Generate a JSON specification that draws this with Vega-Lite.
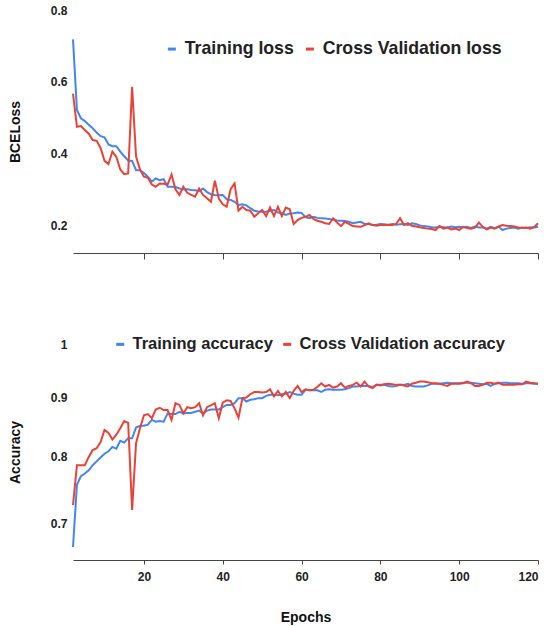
{
  "$schema": "https://vega.github.io/schema/vega-lite/v6.json",
  "padding": {"left": 8, "top": 4, "right": 5, "bottom": 2},
  "config": {
    "font": "Liberation Sans",
    "view": {"stroke": null},
    "axis": {"grid": false, "labelFont": "Liberation Sans", "labelFontWeight": "bold", "labelFontSize": 12, "labelColor": "#222", "titleFont": "Liberation Sans", "titleFontWeight": "bold", "titleFontSize": 14, "titleColor": "#111", "domainColor": "#444", "tickColor": "#444"},
    "legend": {"labelFont": "Liberation Sans", "labelFontSize": 16.5, "labelFontWeight": "bold", "labelColor": "#222", "labelLimit": 0, "symbolType": "stroke", "symbolSize": 64, "symbolStrokeWidth": 3, "columnPadding": 4, "labelOffset": 4, "padding": 0}
  },
  "datasets": {
    "loss": [
      {"epoch":2,"train":0.718,"cv":0.567},{"epoch":3,"train":0.521,"cv":0.474},{"epoch":4,"train":0.498,"cv":0.476},{"epoch":5,"train":0.490,"cv":0.465},{"epoch":6,"train":0.480,"cv":0.455},{"epoch":7,"train":0.470,"cv":0.437},{"epoch":8,"train":0.458,"cv":0.435},{"epoch":9,"train":0.448,"cv":0.415},{"epoch":10,"train":0.445,"cv":0.379},{"epoch":11,"train":0.425,"cv":0.370},
      {"epoch":12,"train":0.420,"cv":0.405},{"epoch":13,"train":0.420,"cv":0.390},{"epoch":14,"train":0.405,"cv":0.355},{"epoch":15,"train":0.392,"cv":0.342},{"epoch":16,"train":0.380,"cv":0.344},{"epoch":17,"train":0.379,"cv":0.586},{"epoch":18,"train":0.353,"cv":0.391},{"epoch":19,"train":0.353,"cv":0.355},{"epoch":20,"train":0.345,"cv":0.335},{"epoch":21,"train":0.335,"cv":0.332},
      {"epoch":22,"train":0.321,"cv":0.313},{"epoch":23,"train":0.330,"cv":0.307},{"epoch":24,"train":0.325,"cv":0.316},{"epoch":25,"train":0.328,"cv":0.315},{"epoch":26,"train":0.307,"cv":0.313},{"epoch":27,"train":0.307,"cv":0.341},{"epoch":28,"train":0.306,"cv":0.300},{"epoch":29,"train":0.302,"cv":0.284},{"epoch":30,"train":0.300,"cv":0.307},{"epoch":31,"train":0.300,"cv":0.290},
      {"epoch":32,"train":0.298,"cv":0.284},{"epoch":33,"train":0.297,"cv":0.279},{"epoch":34,"train":0.295,"cv":0.302},{"epoch":35,"train":0.302,"cv":0.284},{"epoch":36,"train":0.292,"cv":0.275},{"epoch":37,"train":0.286,"cv":0.265},{"epoch":38,"train":0.284,"cv":0.324},{"epoch":39,"train":0.283,"cv":0.274},{"epoch":40,"train":0.284,"cv":0.258},{"epoch":41,"train":0.272,"cv":0.251},
      {"epoch":42,"train":0.270,"cv":0.300},{"epoch":43,"train":0.265,"cv":0.316},{"epoch":44,"train":0.256,"cv":0.240},{"epoch":45,"train":0.258,"cv":0.251},{"epoch":46,"train":0.255,"cv":0.242},{"epoch":47,"train":0.247,"cv":0.240},{"epoch":48,"train":0.240,"cv":0.223},{"epoch":49,"train":0.238,"cv":0.233},{"epoch":50,"train":0.237,"cv":0.242},{"epoch":51,"train":0.237,"cv":0.225},
      {"epoch":52,"train":0.240,"cv":0.249},{"epoch":53,"train":0.242,"cv":0.225},{"epoch":54,"train":0.235,"cv":0.251},{"epoch":55,"train":0.233,"cv":0.225},{"epoch":56,"train":0.228,"cv":0.249},{"epoch":57,"train":0.232,"cv":0.244},{"epoch":58,"train":0.233,"cv":0.203},{"epoch":59,"train":0.235,"cv":0.214},{"epoch":60,"train":0.234,"cv":0.220},{"epoch":61,"train":0.222,"cv":0.223},
      {"epoch":62,"train":0.219,"cv":0.228},{"epoch":63,"train":0.223,"cv":0.217},{"epoch":64,"train":0.220,"cv":0.212},{"epoch":65,"train":0.219,"cv":0.209},{"epoch":66,"train":0.218,"cv":0.205},{"epoch":67,"train":0.217,"cv":0.203},{"epoch":68,"train":0.215,"cv":0.219},{"epoch":69,"train":0.213,"cv":0.207},{"epoch":70,"train":0.212,"cv":0.197},{"epoch":71,"train":0.211,"cv":0.209},
      {"epoch":72,"train":0.209,"cv":0.203},{"epoch":73,"train":0.205,"cv":0.197},{"epoch":74,"train":0.207,"cv":0.196},{"epoch":75,"train":0.209,"cv":0.195},{"epoch":76,"train":0.203,"cv":0.200},{"epoch":77,"train":0.203,"cv":0.205},{"epoch":78,"train":0.200,"cv":0.200},{"epoch":79,"train":0.201,"cv":0.198},{"epoch":80,"train":0.203,"cv":0.200},{"epoch":81,"train":0.202,"cv":0.200},
      {"epoch":82,"train":0.200,"cv":0.201},{"epoch":83,"train":0.203,"cv":0.200},{"epoch":84,"train":0.201,"cv":0.203},{"epoch":85,"train":0.202,"cv":0.219},{"epoch":86,"train":0.203,"cv":0.200},{"epoch":87,"train":0.200,"cv":0.205},{"epoch":88,"train":0.205,"cv":0.198},{"epoch":89,"train":0.203,"cv":0.196},{"epoch":90,"train":0.199,"cv":0.194},{"epoch":91,"train":0.197,"cv":0.192},
      {"epoch":92,"train":0.196,"cv":0.190},{"epoch":93,"train":0.194,"cv":0.189},{"epoch":94,"train":0.193,"cv":0.186},{"epoch":95,"train":0.195,"cv":0.197},{"epoch":96,"train":0.194,"cv":0.190},{"epoch":97,"train":0.193,"cv":0.193},{"epoch":98,"train":0.196,"cv":0.188},{"epoch":99,"train":0.194,"cv":0.190},{"epoch":100,"train":0.195,"cv":0.186},{"epoch":101,"train":0.193,"cv":0.195},
      {"epoch":102,"train":0.195,"cv":0.192},{"epoch":103,"train":0.192,"cv":0.190},{"epoch":104,"train":0.196,"cv":0.193},{"epoch":105,"train":0.193,"cv":0.207},{"epoch":106,"train":0.193,"cv":0.195},{"epoch":107,"train":0.190,"cv":0.188},{"epoch":108,"train":0.195,"cv":0.193},{"epoch":109,"train":0.191,"cv":0.190},{"epoch":110,"train":0.195,"cv":0.196},{"epoch":111,"train":0.186,"cv":0.200},
      {"epoch":112,"train":0.190,"cv":0.198},{"epoch":113,"train":0.192,"cv":0.197},{"epoch":114,"train":0.193,"cv":0.196},{"epoch":115,"train":0.190,"cv":0.193},{"epoch":116,"train":0.193,"cv":0.192},{"epoch":117,"train":0.192,"cv":0.193},{"epoch":118,"train":0.194,"cv":0.190},{"epoch":119,"train":0.193,"cv":0.194},{"epoch":120,"train":0.195,"cv":0.205}
    ],
    "acc": [
      {"epoch":2,"train":0.668,"cv":0.726},{"epoch":3,"train":0.756,"cv":0.786},{"epoch":4,"train":0.769,"cv":0.786},{"epoch":5,"train":0.773,"cv":0.786},{"epoch":6,"train":0.778,"cv":0.799},{"epoch":7,"train":0.786,"cv":0.810},{"epoch":8,"train":0.792,"cv":0.813},{"epoch":9,"train":0.798,"cv":0.823},{"epoch":10,"train":0.804,"cv":0.843},{"epoch":11,"train":0.808,"cv":0.838},
      {"epoch":12,"train":0.815,"cv":0.827},{"epoch":13,"train":0.812,"cv":0.835},{"epoch":14,"train":0.825,"cv":0.846},{"epoch":15,"train":0.822,"cv":0.858},{"epoch":16,"train":0.829,"cv":0.855},{"epoch":17,"train":0.829,"cv":0.719},{"epoch":18,"train":0.847,"cv":0.821},{"epoch":19,"train":0.850,"cv":0.846},{"epoch":20,"train":0.850,"cv":0.868},{"epoch":21,"train":0.852,"cv":0.870},
      {"epoch":22,"train":0.860,"cv":0.863},{"epoch":23,"train":0.857,"cv":0.878},{"epoch":24,"train":0.858,"cv":0.881},{"epoch":25,"train":0.857,"cv":0.877},{"epoch":26,"train":0.871,"cv":0.877},{"epoch":27,"train":0.870,"cv":0.860},{"epoch":28,"train":0.870,"cv":0.889},{"epoch":29,"train":0.874,"cv":0.886},{"epoch":30,"train":0.871,"cv":0.871},{"epoch":31,"train":0.872,"cv":0.882},
      {"epoch":32,"train":0.872,"cv":0.880},{"epoch":33,"train":0.874,"cv":0.882},{"epoch":34,"train":0.876,"cv":0.889},{"epoch":35,"train":0.871,"cv":0.868},{"epoch":36,"train":0.876,"cv":0.882},{"epoch":37,"train":0.878,"cv":0.885},{"epoch":38,"train":0.878,"cv":0.889},{"epoch":39,"train":0.878,"cv":0.863},{"epoch":40,"train":0.882,"cv":0.890},{"epoch":41,"train":0.886,"cv":0.894},
      {"epoch":42,"train":0.886,"cv":0.893},{"epoch":43,"train":0.889,"cv":0.880},{"epoch":44,"train":0.898,"cv":0.864},{"epoch":45,"train":0.898,"cv":0.898},{"epoch":46,"train":0.892,"cv":0.899},{"epoch":47,"train":0.895,"cv":0.905},{"epoch":48,"train":0.896,"cv":0.909},{"epoch":49,"train":0.898,"cv":0.909},{"epoch":50,"train":0.898,"cv":0.908},{"epoch":51,"train":0.902,"cv":0.909},
      {"epoch":52,"train":0.904,"cv":0.914},{"epoch":53,"train":0.904,"cv":0.901},{"epoch":54,"train":0.903,"cv":0.911},{"epoch":55,"train":0.905,"cv":0.901},{"epoch":56,"train":0.906,"cv":0.909},{"epoch":57,"train":0.909,"cv":0.898},{"epoch":58,"train":0.906,"cv":0.911},{"epoch":59,"train":0.904,"cv":0.920},{"epoch":60,"train":0.904,"cv":0.909},{"epoch":61,"train":0.913,"cv":0.914},
      {"epoch":62,"train":0.912,"cv":0.912},{"epoch":63,"train":0.912,"cv":0.913},{"epoch":64,"train":0.912,"cv":0.918},{"epoch":65,"train":0.909,"cv":0.925},{"epoch":66,"train":0.913,"cv":0.919},{"epoch":67,"train":0.914,"cv":0.922},{"epoch":68,"train":0.913,"cv":0.917},{"epoch":69,"train":0.913,"cv":0.919},{"epoch":70,"train":0.913,"cv":0.925},{"epoch":71,"train":0.914,"cv":0.917},
      {"epoch":72,"train":0.916,"cv":0.920},{"epoch":73,"train":0.919,"cv":0.922},{"epoch":74,"train":0.919,"cv":0.926},{"epoch":75,"train":0.920,"cv":0.919},{"epoch":76,"train":0.920,"cv":0.928},{"epoch":77,"train":0.920,"cv":0.919},{"epoch":78,"train":0.918,"cv":0.916},{"epoch":79,"train":0.922,"cv":0.922},{"epoch":80,"train":0.921,"cv":0.922},{"epoch":81,"train":0.922,"cv":0.923},
      {"epoch":82,"train":0.920,"cv":0.924},{"epoch":83,"train":0.919,"cv":0.923},{"epoch":84,"train":0.920,"cv":0.922},{"epoch":85,"train":0.922,"cv":0.922},{"epoch":86,"train":0.922,"cv":0.921},{"epoch":87,"train":0.924,"cv":0.919},{"epoch":88,"train":0.920,"cv":0.924},{"epoch":89,"train":0.919,"cv":0.926},{"epoch":90,"train":0.919,"cv":0.928},{"epoch":91,"train":0.919,"cv":0.928},
      {"epoch":92,"train":0.921,"cv":0.927},{"epoch":93,"train":0.924,"cv":0.925},{"epoch":94,"train":0.924,"cv":0.925},{"epoch":95,"train":0.924,"cv":0.924},{"epoch":96,"train":0.925,"cv":0.922},{"epoch":97,"train":0.926,"cv":0.920},{"epoch":98,"train":0.925,"cv":0.924},{"epoch":99,"train":0.925,"cv":0.924},{"epoch":100,"train":0.925,"cv":0.924},{"epoch":101,"train":0.926,"cv":0.925},
      {"epoch":102,"train":0.926,"cv":0.928},{"epoch":103,"train":0.926,"cv":0.925},{"epoch":104,"train":0.925,"cv":0.920},{"epoch":105,"train":0.924,"cv":0.920},{"epoch":106,"train":0.923,"cv":0.922},{"epoch":107,"train":0.924,"cv":0.926},{"epoch":108,"train":0.920,"cv":0.926},{"epoch":109,"train":0.924,"cv":0.924},{"epoch":110,"train":0.925,"cv":0.926},{"epoch":111,"train":0.926,"cv":0.922},
      {"epoch":112,"train":0.926,"cv":0.922},{"epoch":113,"train":0.925,"cv":0.922},{"epoch":114,"train":0.925,"cv":0.922},{"epoch":115,"train":0.925,"cv":0.923},{"epoch":116,"train":0.924,"cv":0.923},{"epoch":117,"train":0.925,"cv":0.928},{"epoch":118,"train":0.925,"cv":0.926},{"epoch":119,"train":0.924,"cv":0.925},{"epoch":120,"train":0.924,"cv":0.924}
    ]
  },
  "bounds": "flush",
  "spacing": 91,
  "resolve": {"scale": {"color": "independent"}, "legend": {"color": "independent"}},
  "vconcat": [
    {
      "width": 465,
      "height": 243,
      "data": {"name": "loss"},
      "transform": [{"fold": ["train", "cv"], "as": ["series", "value"]}],
      "mark": {"type": "line", "strokeWidth": 2},
      "encoding": {
        "x": {"field": "epoch", "type": "quantitative", "scale": {"domain": [2, 120], "nice": false, "zero": false}, "axis": {"values": [20, 40, 60, 80, 100, 120], "labels": false, "title": null, "tickSize": 6}},
        "y": {"field": "value", "type": "quantitative", "scale": {"domain": [0.122, 0.8], "nice": false, "zero": false}, "axis": {"values": [0.2, 0.4, 0.6, 0.8], "format": ".1f", "title": "BCELoss", "domain": false, "ticks": false, "labelPadding": 6, "titlePadding": 28}},
        "color": {"field": "series", "type": "nominal", "scale": {"domain": ["train", "cv"], "range": ["#4285f4", "#ea4335"]}, "legend": {"orient": "none", "legendX": 90, "legendY": 30, "direction": "horizontal", "title": null, "labelFontSize": 17.7, "columnPadding": 5, "labelExpr": "datum.value == 'train' ? 'Training loss' : 'Cross Validation loss'"}}
      }
    },
    {
      "width": 465,
      "height": 216,
      "data": {"name": "acc"},
      "transform": [{"fold": ["train", "cv"], "as": ["series", "value"]}],
      "mark": {"type": "line", "strokeWidth": 2},
      "encoding": {
        "x": {"field": "epoch", "type": "quantitative", "scale": {"domain": [2, 120], "nice": false, "zero": false}, "axis": {"values": [20, 40, 60, 80, 100, 120], "title": "Epochs", "tickSize": 4, "labelPadding": 7, "titlePadding": 28}},
        "y": {"field": "value", "type": "quantitative", "scale": {"type": "log", "domain": [0.651, 1], "nice": false}, "axis": {"values": [0.7, 0.8, 0.9, 1], "format": "~g", "title": "Accuracy", "domain": false, "ticks": false, "labelPadding": 6, "titlePadding": 28}},
        "color": {"field": "series", "type": "nominal", "scale": {"domain": ["train", "cv"], "range": ["#4285f4", "#ea4335"]}, "legend": {"orient": "none", "legendX": 39, "legendY": -8, "direction": "horizontal", "title": null, "labelExpr": "datum.value == 'train' ? 'Training accuracy' : 'Cross Validation accuracy'"}}
      }
    }
  ]
}
